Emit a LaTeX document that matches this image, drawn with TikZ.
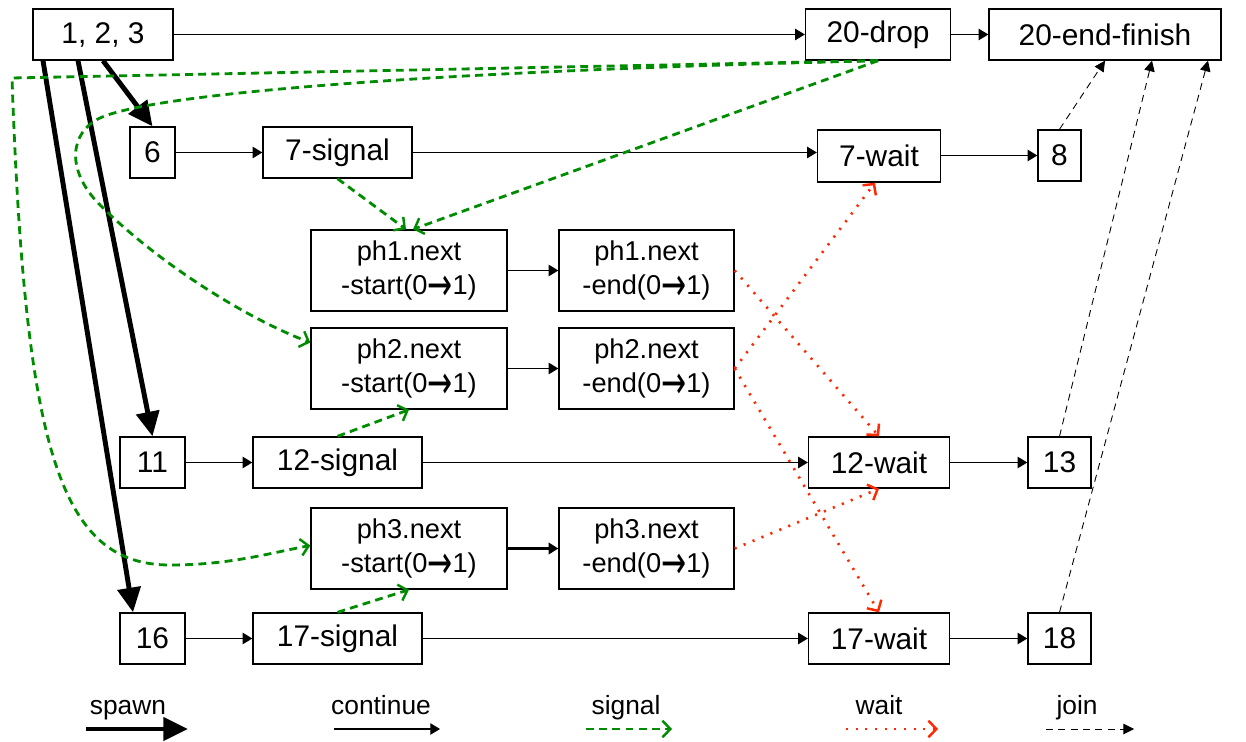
\documentclass[tikz,border=0pt]{standalone}
\usepackage{graphicx}
\usepackage{fontspec}
\setmainfont{Liberation Sans}
\newfontfamily\arrowfont{DejaVu Sans}
\usetikzlibrary{arrows.meta}
\definecolor{sgreen}{RGB}{0,140,0}
\definecolor{wred}{RGB}{255,40,0}
\newcommand{\phto}{{\arrowfont\raisebox{-0.2em}{\scalebox{1.1}[1.7]{→}}}}

\begin{document}
\begin{tikzpicture}[
        x=0.02cm, y=-0.02cm,
        block/.style={rectangle, draw, line width=0.8pt, inner sep=0pt, minimum height=1.02cm, align=center, font=\fontsize{17}{20}\selectfont},
        phblock/.style={block, minimum height=1.62cm, font=\fontsize{15.5}{19.8}\selectfont},
        contarrow/.style={-{Triangle[length=5.5pt,width=6.5pt]}, line width=0.6pt},
        spawnarrow/.style={-{Triangle[length=14pt,width=13pt]}, line width=2.8pt},
        signalarrow/.style={-{Straight Barb[length=4.5pt,width=9.5pt,line width=1.4pt]}, sgreen, line width=1.6pt, dash pattern=on 4.5pt off 3pt},
        waitarrow/.style={-{Straight Barb[length=4.5pt,width=9.5pt,line width=1.4pt]}, wred, line width=1.5pt, dash pattern=on 1.2pt off 4.3pt},
        joinarrow/.style={-{Triangle[length=6pt,width=6pt]}, line width=0.5pt, dash pattern=on 4pt off 3pt},
        legend/.style={anchor=base, font=\fontsize{15}{18}\selectfont}
    ]
        \useasboundingbox (0,0) rectangle (1246,742);

        % Top row
        \node[block, minimum width=2.8cm] (n123) at (103,34.5) {1, 2, 3};
        \node[block, minimum width=2.9cm] (drop) at (878,34.5) {20-drop};
        \node[block, minimum width=4.64cm] (endfin) at (1105,34.5) {20-end-finish};

        % Thread 6
        \node[block, minimum width=0.9cm] (n6) at (152.5,152.5) {6};
        \node[block, minimum width=2.98cm] (sig7) at (337.5,152.5) {7-signal};
        \node[block, minimum width=2.46cm, minimum height=1.04cm] (wait7) at (879,156) {7-wait};
        \node[block, minimum width=0.86cm] (n8) at (1059.5,155.5) {8};

        % Phasers
        \node[phblock, minimum width=3.92cm] (ph1s) at (409,270.5) {ph1.next\\-start(0\phto1)};
        \node[phblock, minimum width=3.5cm] (ph1e) at (646.5,270.5) {ph1.next\\-end(0\phto1)};
        \node[phblock, minimum width=3.92cm] (ph2s) at (409,368.5) {ph2.next\\-start(0\phto1)};
        \node[phblock, minimum width=3.5cm] (ph2e) at (646.5,368.5) {ph2.next\\-end(0\phto1)};
        \node[phblock, minimum width=3.92cm] (ph3s) at (409,548.5) {ph3.next\\-start(0\phto1)};
        \node[phblock, minimum width=3.5cm] (ph3e) at (646.5,548.5) {ph3.next\\-end(0\phto1)};

        % Thread 11
        \node[block, minimum width=1.3cm] (n11) at (152.5,462.5) {11};
        \node[block, minimum width=3.38cm] (sig12) at (337.5,462.5) {12-signal};
        \node[block, minimum width=2.82cm] (wait12) at (879,462.5) {12-wait};
        \node[block, minimum width=1.26cm] (n13) at (1059.5,462.5) {13};

        % Thread 16
        \node[block, minimum width=1.3cm] (n16) at (152.5,638.5) {16};
        \node[block, minimum width=3.38cm] (sig17) at (337.5,638.5) {17-signal};
        \node[block, minimum width=2.82cm] (wait17) at (879,638.5) {17-wait};
        \node[block, minimum width=1.26cm] (n18) at (1059.5,638.5) {18};

        % continue
        \draw[contarrow] (n123) -- (drop);
        \draw[contarrow] (drop) -- (endfin);
        \draw[contarrow] (n6) -- (sig7);
        \draw[contarrow] (sig7) -- (sig7 -| wait7.west);
        \draw[contarrow] (wait7.east |- n8) -- (n8);
        \draw[contarrow] (ph1s) -- (ph1e);
        \draw[contarrow] (ph2s) -- (ph2e);
        \draw[contarrow, line width=1.3pt] (ph3s) -- (ph3e);
        \draw[contarrow] (n11) -- (sig12);
        \draw[contarrow] (sig12) -- (wait12);
        \draw[contarrow] (wait12) -- (n13);
        \draw[contarrow] (n16) -- (sig17);
        \draw[contarrow] (sig17) -- (wait17);
        \draw[contarrow] (wait17) -- (n18);

        % spawn
        \draw[spawnarrow] (n123.south) -- (n6.north);
        \draw[spawnarrow] ([xshift=-0.5cm]n123.south) -- (n11.north);
        \draw[spawnarrow] ([xshift=-1.2cm]n123.south) -- ([xshift=-0.39cm]n16.north);

        % signal
        \draw[signalarrow] (sig7.south) -- ([xshift=-0.06cm]ph1s.north);
        \draw[signalarrow] (drop.south) -- ([xshift=0.08cm]ph1s.north);
        \draw[signalarrow] (drop.south) .. controls (400,72) and (150,95) .. (100,118)
            .. controls (70,132) and (65,170) .. (100,205)
            .. controls (160,265) and (250,320) .. ([yshift=0.52cm]ph2s.west);
        \draw[signalarrow] (drop.south) -- (12,78) .. controls (25,450) and (60,565) .. (170,565)
            .. controls (230,565) and (270,553) .. ([yshift=0.06cm]ph3s.west);
        \draw[signalarrow] (sig12.north) -- (ph2s.south);
        \draw[signalarrow] (sig17.north) -- (ph3s.south);

        % wait
        \draw[waitarrow] (ph1e.east) -- (wait12.north);
        \draw[waitarrow] (ph2e.east) -- ([xshift=-0.08cm]wait7.south);
        \draw[waitarrow] (ph2e.east) -- (wait17.north);
        \draw[waitarrow] (ph3e.east) -- (wait12.south);

        % join
        \draw[joinarrow] (n8.north) -- (endfin.south);
        \draw[joinarrow] (n13.north) -- ([xshift=0.94cm]endfin.south);
        \draw[joinarrow] (n18.north) -- ([xshift=2.06cm]endfin.south);

        % Legend
        \node[legend] (lspawn) at (128,714) {spawn};
        \node[legend] (lcont) at (381,714) {continue};
        \node[legend] (lsignal) at (626,714) {signal};
        \node[legend] (lwait) at (879,714) {wait};
        \node[legend] (ljoin) at (1077,714) {join};
        \coordinate (ls1) at (86,729);
        \coordinate (ls2) at (188,729);
        \coordinate (lc1) at (334,729);
        \coordinate (lc2) at (440,729);
        \coordinate (lg1) at (586,729);
        \coordinate (lg2) at (672,729);
        \coordinate (lw1) at (846,729);
        \coordinate (lw2) at (938,729);
        \coordinate (lj1) at (1046,729);
        \coordinate (lj2) at (1134,729);
        \draw[spawnarrow] (ls1) -- (ls2);
        \draw[contarrow] (lc1) -- (lc2);
        \draw[signalarrow] (lg1) -- (lg2);
        \draw[waitarrow] (lw1) -- (lw2);
        \draw[joinarrow] (lj1) -- (lj2);
    \end{tikzpicture}
\end{document}
